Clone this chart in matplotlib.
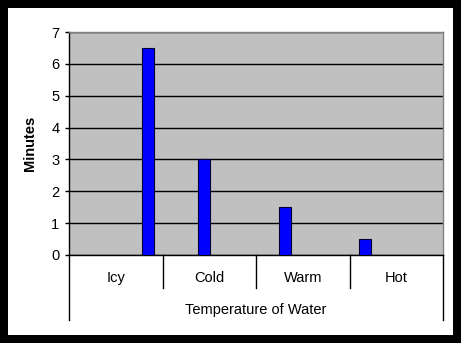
import matplotlib
matplotlib.use("Agg")
import matplotlib.pyplot as plt

plt.rcParams['font.family'] = ['Liberation Sans', 'DejaVu Sans']

# Data
categories = ['Icy', 'Cold', 'Warm', 'Hot']
minutes = [6.5, 3.0, 1.5, 0.5]
x_title = 'Temperature of Water'
y_title = 'Minutes'
y_ticks = [0, 1, 2, 3, 4, 5, 6, 7]

# bar placement within each category slot (style)
BAR_OFFSETS = [0.34, -0.054, -0.19, -0.33]
BAR_WIDTH = 0.128

W, H = 461, 343
# black frame around a white card
fig = plt.figure(figsize=(W / 100, H / 100), dpi=100, facecolor='white',
                 edgecolor='black', linewidth=11.5)

ax = fig.add_axes([69 / W, (H - 255) / H, (443 - 69) / W, (255 - 32) / H])
ax.set_facecolor('#c0c0c0')

xs = [i + off for i, off in enumerate(BAR_OFFSETS)]
ax.bar(xs, minutes, width=BAR_WIDTH, color='#0000ff', edgecolor='#000033',
       linewidth=0.8, zorder=3)

ax.set_xlim(-0.5, len(categories) - 0.5)
ax.set_ylim(0, 7)
ax.set_yticks(y_ticks)
ax.yaxis.grid(True, color='black', linewidth=1.0, zorder=1)
ax.set_axisbelow(True)
ax.tick_params(axis='y', length=3, width=1, color='black', labelsize=10.5, pad=4)
ax.tick_params(axis='x', length=0, labelbottom=False)

for side in ['top', 'right']:
    ax.spines[side].set_color('#808080')
    ax.spines[side].set_linewidth(1.0)
for side in ['left', 'bottom']:
    ax.spines[side].set_color('black')
    ax.spines[side].set_linewidth(1.0)

ax.set_ylabel(y_title, fontsize=10.5, fontweight='bold')
ax.yaxis.set_label_coords(-0.086, 0.5)

# category table below the plot area
trans = ax.get_xaxis_transform()
n = len(categories)
for i in range(1, n):
    ax.plot([i - 0.5, i - 0.5], [0, -0.148], transform=trans, color='black',
            linewidth=1.0, clip_on=False)
for xe in [-0.5, n - 0.5]:
    ax.plot([xe, xe], [0, -0.291], transform=trans, color='black',
            linewidth=1.0, clip_on=False)
for i, cat in enumerate(categories):
    ax.text(i, -0.103, cat, transform=trans, ha='center', va='center',
            fontsize=10.5)
ax.text(0.5, -0.247, x_title, transform=ax.transAxes, ha='center',
        va='center', fontsize=10.5)

fig.savefig('out.png', dpi=100, facecolor='white', edgecolor='black')
